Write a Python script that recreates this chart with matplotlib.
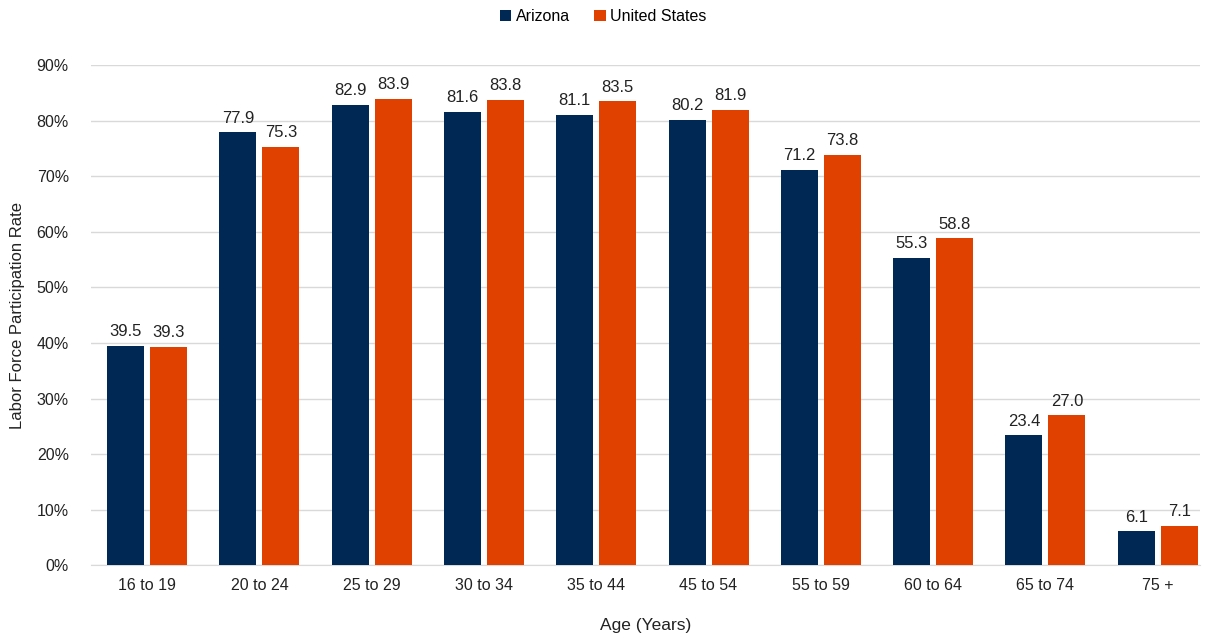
import numpy as np
import matplotlib.pyplot as plt

plt.rcParams['font.family'] = ['Liberation Sans', 'DejaVu Sans']

ages = ['16 to 19', '20 to 24', '25 to 29', '30 to 34', '35 to 44',
        '45 to 54', '55 to 59', '60 to 64', '65 to 74', '75 +']
arizona = [39.5, 77.9, 82.9, 81.6, 81.1, 80.2, 71.2, 55.3, 23.4, 6.1]
united_states = [39.3, 75.3, 83.9, 83.8, 83.5, 81.9, 73.8, 58.8, 27.0, 7.1]

navy = '#002855'
orange = '#e04000'

fig = plt.figure(figsize=(12.07, 6.38), dpi=100)
ax = fig.add_axes([0.0754, 0.114, 0.9188, 0.784])

x = np.arange(len(ages))
w = 0.33
gap = 0.053
b1 = ax.bar(x - w / 2 - gap / 2, arizona, w, color=navy, label='Arizona', zorder=3)
b2 = ax.bar(x + w / 2 + gap / 2, united_states, w, color=orange, label='United States', zorder=3)

for bars, vals in ((b1, arizona), (b2, united_states)):
    for r, v in zip(bars, vals):
        ax.text(r.get_x() + r.get_width() / 2, v + 1.2, f'{v:.1f}',
                ha='center', va='bottom', fontsize=12, color='#222222')

ax.set_ylim(0, 90)
ax.set_xlim(-0.5, 9.377)
ax.set_yticks(range(0, 91, 10))
ax.set_yticklabels([f'{t}%' for t in range(0, 91, 10)])
ax.set_xticks(x)
ax.set_xticklabels(ages)
ax.tick_params(axis='both', length=0, labelsize=11.5, colors='#222222')
ax.tick_params(axis='y', pad=16)
ax.tick_params(axis='x', pad=9)
ax.grid(axis='y', color='#d9d9d9', linewidth=1, zorder=0)
for s in ('top', 'right', 'left'):
    ax.spines[s].set_visible(False)
ax.spines['bottom'].set_color('#d9d9d9')

ax.set_ylabel('Labor Force Participation Rate', fontsize=12, color='#222222', labelpad=8)
ax.set_xlabel('Age (Years)', fontsize=12.5, color='#222222', labelpad=18)

fig.legend(loc='upper center', bbox_to_anchor=(0.5, 1.008), ncol=2, frameon=False,
           fontsize=11.5, handlelength=0.7, handleheight=0.7, handletextpad=0.3,
           columnspacing=1.5)

fig.savefig('out.png', dpi=100)
